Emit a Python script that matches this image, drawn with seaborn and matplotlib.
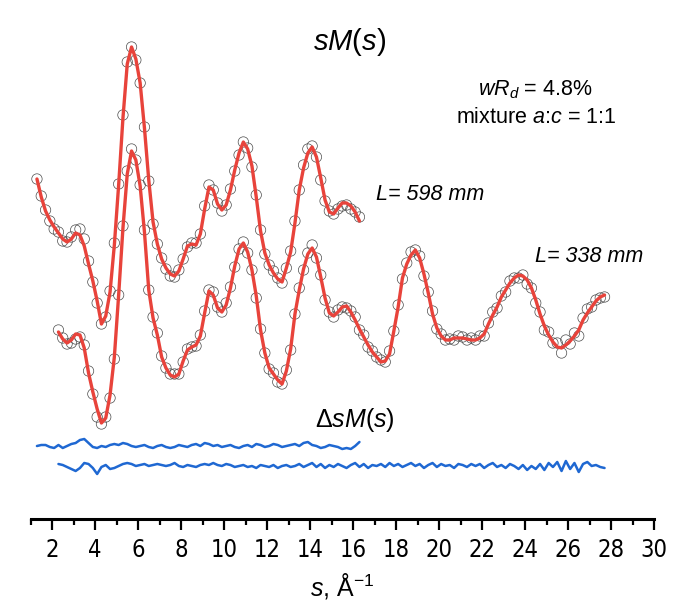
import numpy as np
import matplotlib
matplotlib.use("Agg")
import matplotlib.pyplot as plt
import seaborn as sns

# s grids (step 0.2 A^-1)
s_598 = np.round(np.arange(1.3, 16.31, 0.2), 2)
s_338 = np.round(np.arange(2.3, 27.71, 0.2), 2)

# theoretical sM(s), L = 598 mm
sm_598 = [5.1, 3.3, 1.9, 1.0, 0.3, -0.3, -0.9, -1.2, -0.9, -0.3,
          -0.5, -1.6, -3.4, -5.1, -7.1, -9.4, -8.6, -6.2, -1.5, 4.5,
          11.2, 16.6, 18.3, 17.1, 14.7, 10.2, 5.0, 0.8, -1.4, -2.9,
          -3.8, -4.4, -4.6, -4.1, -2.9, -1.6, -1.4, -1.5, -0.4, 2.1,
          4.3, 4.0, 2.6, 2.0, 2.5, 4.0, 6.0, 7.7, 8.8, 8.1,
          6.4, 3.3, -0.1, -2.3, -3.5, -4.3, -4.9, -5.2, -3.8, -2.2,
          0.7, 4.0, 6.2, 7.7, 8.3, 7.3, 5.2, 3.0, 1.8, 1.6,
          2.2, 2.7, 2.7, 2.4, 1.8, 0.9]
# difference curve exp - theor, L = 598 mm
d_598 = [0.0, 0.1, 0.1, -0.1, -0.2, 0.1, -0.2, 0.0, 0.2, 0.3,
         0.6, 0.7, 0.3, -0.1, -0.2, 0.0, -0.1, 0.1, 0.2, 0.1,
         0.3, 0.2, 0.0, -0.1, 0.0, 0.1, -0.1, -0.2, 0.0, 0.1,
         -0.1, -0.2, -0.1, 0.1, 0.0, -0.1, 0.1, 0.2, 0.0, 0.3,
         0.2, 0.0, 0.1, -0.1, 0.0, 0.1, -0.1, -0.2, 0.0, 0.1,
         -0.1, 0.2, 0.1, -0.1, 0.0, 0.2, 0.1, -0.1, 0.0, 0.1,
         0.2, 0.0, 0.3, 0.4, 0.1, 0.0, -0.2, -0.1, 0.1, 0.0,
         -0.1, -0.3, -0.2, -0.3, 0.0, 0.4]

# theoretical sM(s), L = 338 mm
sm_338 = [-0.2, -0.9, -1.3, -1.0, -0.4, -0.5, -1.8, -4.3, -6.2, -7.9,
          -9.3, -8.8, -6.5, -2.7, 3.5, 10.2, 15.6, 17.9, 17.0, 14.4,
          9.8, 4.0, 1.2, -0.5, -2.7, -3.8, -4.5, -4.7, -4.4, -3.1,
          -2.0, -1.7, -1.5, -0.6, 1.7, 3.9, 3.5, 2.2, 1.8, 2.5,
          4.2, 6.4, 8.1, 8.7, 7.8, 6.0, 3.4, 0.0, -2.3, -3.8,
          -4.4, -5.0, -5.4, -4.1, -1.9, 1.6, 4.0, 6.1, 7.6, 8.2,
          7.3, 5.3, 3.2, 1.7, 1.4, 1.8, 2.3, 2.4, 1.8, 1.0,
          0.1, -0.7, -1.5, -2.2, -2.7, -3.2, -3.1, -2.4, -0.1, 2.3,
          5.2, 6.6, 7.5, 8.0, 7.2, 5.6, 3.7, 1.6, 0.2, -0.6,
          -1.0, -1.0, -0.8, -0.8, -0.8, -0.9, -1.0, -1.0, -0.8, -0.4,
          0.6, 1.5, 2.3, 3.3, 4.0, 4.7, 5.2, 5.5, 5.4, 5.0,
          4.2, 3.0, 1.6, 0.4, -0.5, -1.2, -1.7, -1.8, -1.5, -1.1,
          -0.6, 0.0, 1.0, 1.7, 2.3, 2.9, 3.3, 3.5]
# difference curve exp - theor, L = 338 mm
d_338 = [0.2, 0.1, -0.1, -0.3, -0.5, -0.2, 0.3, 0.2, -0.2, -0.8,
         -0.1, 0.1, -0.3, -0.2, 0.0, 0.2, 0.3, 0.2, 0.0, 0.1,
         0.2, 0.0, 0.1, 0.2, 0.1, 0.0, 0.1, 0.3, 0.0, -0.1,
         0.1, 0.0, -0.1, 0.1, 0.2, 0.1, 0.3, 0.1, 0.0, 0.2,
         0.1, -0.1, 0.0, 0.1, -0.1, 0.0, -0.2, 0.1, 0.0, -0.1,
         0.1, -0.2, 0.0, 0.1, -0.1, 0.0, 0.2, -0.1, 0.1, 0.3,
         -0.1, 0.2, -0.2, 0.1, -0.1, 0.2, 0.0, -0.2, 0.1, 0.3,
         -0.1, 0.2, -0.2, 0.1, 0.0, 0.2, -0.1, 0.3, 0.0, 0.2,
         -0.1, 0.1, 0.3, 0.0, 0.2, -0.2, 0.1, 0.3, -0.1, 0.2,
         0.0, 0.1, -0.2, 0.2, 0.1, -0.1, 0.2, 0.0, 0.2, -0.2,
         0.1, 0.3, -0.1, 0.1, -0.2, 0.2, 0.0, -0.3, 0.1, -0.4,
         0.0, -0.3, 0.2, -0.4, 0.3, -0.1, 0.4, -0.5, 0.5, -0.3,
         0.3, -0.6, 0.2, 0.4, 0.0, 0.1, -0.1, -0.2]

assert len(sm_598) == len(d_598) == len(s_598)
assert len(sm_338) == len(d_338) == len(s_338)

# vertical offsets of the stacked curves
off_598, off_338 = 28.9, 18.9
off_d598, off_d338 = 7.3, 5.3

RED = "#e8433b"
BLUE = "#1f68d2"

sns.set_theme(style="white")
plt.rcParams["font.family"] = ["Liberation Sans", "DejaVu Sans"]
plt.rcParams["text.color"] = "black"
plt.rcParams["axes.labelcolor"] = "black"
plt.rcParams["xtick.color"] = "black"
plt.rcParams["mathtext.fontset"] = "custom"
plt.rcParams["mathtext.rm"] = "Liberation Sans"
plt.rcParams["mathtext.it"] = "Liberation Sans:italic"

fig = plt.figure(figsize=(6.74, 6.0), dpi=100)
ax = fig.add_axes([30.5 / 674, 81 / 600, 623.5 / 674, 519 / 600])

for s, sm, d, off, doff in [(s_598, sm_598, d_598, off_598, off_d598),
                            (s_338, sm_338, d_338, off_338, off_d338)]:
    sm = np.array(sm)
    d = np.array(d)
    exp = sm + d
    sns.scatterplot(x=s, y=exp + off, ax=ax, marker="o", s=56,
                    facecolors="none", edgecolor="#4a4a4a", linewidth=0.5,
                    zorder=2, legend=False)
    sns.lineplot(x=s, y=sm + off, ax=ax, color=RED, lw=2.4, zorder=3)
    sns.lineplot(x=s, y=d + doff, ax=ax, color=BLUE, lw=1.8, zorder=3)

ax.set_xlim(1, 30)
ax.set_ylim(0, 51.9)
ax.set_yticks([])
ax.set_xticks(range(2, 31, 2))
ax.set_xticks(range(1, 31, 2), minor=True)
for side in ["top", "right", "left"]:
    ax.spines[side].set_visible(False)
ax.spines["bottom"].set_linewidth(2.2)
ax.spines["bottom"].set_color("black")
ax.tick_params(axis="x", which="major", direction="out", length=8, width=1.6,
               bottom=True, color="black", pad=6, labelsize=17,
               labelcolor="black")
ax.tick_params(axis="x", which="minor", direction="out", length=4.5, width=1.6,
               bottom=True, color="black")
for lbl in ax.get_xticklabels():
    lbl.set_family(["Liberation Sans Narrow", "DejaVu Sans"])
    lbl.set_stretch("condensed")

ax.set_xlabel(r"$s$, Å$^{-1}$", fontsize=18, labelpad=6, color="black")

ax.text(15.86, 47.7, r"$sM$($s$)", fontsize=21, ha="center", va="center",
        color="black")
ax.text(24.5, 42.9, r"$wR_d$ = 4.8%", fontsize=15.5, ha="center",
        va="center", color="black")
ax.text(24.5, 40.1, r"mixture $a$:$c$ = 1:1", fontsize=15.5, ha="center",
        va="center", color="black")
ax.text(19.6, 32.4, "L= 598 mm", fontsize=15.5, style="italic",
        ha="center", va="center", color="black")
ax.text(27.0, 26.2, "L= 338 mm", fontsize=15.5, style="italic",
        ha="center", va="center", color="black")
ax.text(16.1, 9.9, r"$\Delta$$sM$($s$)", fontsize=18, ha="center",
        va="center", color="black")

fig.savefig("out.png", dpi=100)
